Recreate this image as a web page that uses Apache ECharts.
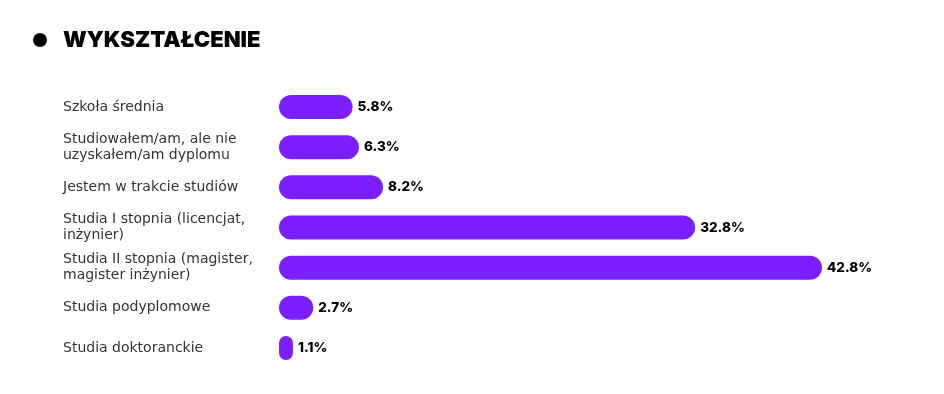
<!DOCTYPE html>
<html>
<head>
<meta charset="utf-8">
<script src="https://cdn.jsdelivr.net/npm/echarts@6/dist/echarts.min.js"></script>
<style>
  html, body { margin: 0; padding: 0; background: #fff; }
  #chart { width: 944px; height: 394px; }
</style>
</head>
<body>
<div id="chart"></div>
<script>
// categories, top to bottom
const categories = [
  "Szkoła średnia",
  "Studiowałem/am, ale nie\nuzyskałem/am dyplomu",
  "Jestem w trakcie studiów",
  "Studia I stopnia (licencjat,\ninżynier)",
  "Studia II stopnia (magister,\nmagister inżynier)",
  "Studia podyplomowe",
  "Studia doktoranckie"
];
const values = [5.8, 6.3, 8.2, 32.8, 42.8, 2.7, 1.1];

const myChart = echarts.init(document.getElementById("chart"));
const option = {
  animation: false,
  title: {
    text: "WYKSZTAŁCENIE",
    left: 58,
    top: 24,
    textStyle: {
      fontFamily: "Inter",
      fontWeight: 900,
      fontSize: 22,
      color: "#000"
    }
  },
  graphic: [
    { type: "circle", shape: { cx: 40, cy: 40, r: 7 }, style: { fill: "#000" } }
  ],
  grid: { left: 279, top: 87, width: 543, height: 281, containLabel: false },
  xAxis: {
    type: "value",
    min: 0,
    max: 42.8,
    show: false
  },
  yAxis: {
    type: "category",
    inverse: true,
    data: categories,
    axisLine: { show: false },
    axisTick: { show: false },
    axisLabel: {
      align: "left",
      margin: 216,
      color: "#333",
      fontFamily: "DejaVu Sans",
      fontSize: 14,
      lineHeight: 16
    }
  },
  series: [{
    type: "bar",
    data: values,
    barWidth: 24,
    itemStyle: { color: "#7b1fff", borderRadius: 12 },
    label: {
      show: true,
      position: "right",
      distance: 5,
      formatter: "{c}%",
      color: "#000",
      fontFamily: "Inter",
      fontWeight: 800,
      fontSize: 13.5
    }
  }]
};
myChart.setOption(option);
</script>
</body>
</html>
